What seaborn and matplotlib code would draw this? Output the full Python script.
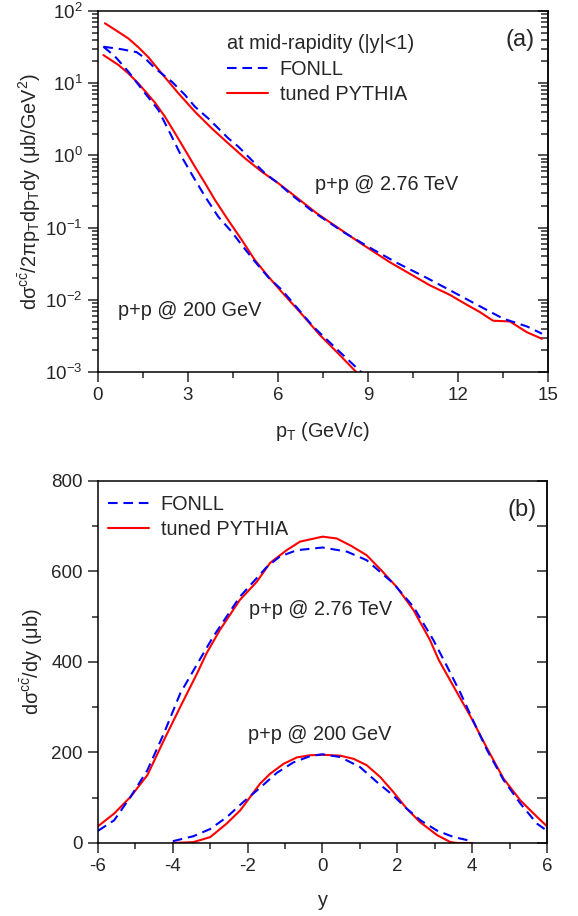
import numpy as np
import pandas as pd
import matplotlib
matplotlib.use("Agg")
import matplotlib.pyplot as plt
from matplotlib.ticker import MultipleLocator
import seaborn as sns

# ---- panel (a): pT spectra at mid-rapidity ----
pt_pythia_276 = [0.23, 0.68, 1.01, 1.34, 1.68, 2.12, 2.68, 3.23, 3.79, 4.34, 4.9, 5.46, 6.01,
                 6.46, 7.29, 8.73, 9.73, 11.07, 11.73, 12.3, 12.73, 13.17, 13.73, 14.3, 14.8]
pythia_276 = [67.6, 51.3, 41.7, 31.6, 22.9, 13.7, 7.24, 4.03, 2.37, 1.47, 0.912, 0.594, 0.411,
              0.295, 0.158, 0.0617, 0.0331, 0.0158, 0.0117, 0.00851, 0.00676, 0.00513,
              0.00501, 0.00355, 0.00288]

pt_fonll_276 = [0.18, 0.79, 1.29, 1.57, 1.9, 2.46, 2.9, 3.23, 3.68, 4.01, 4.34, 4.68, 5.12, 5.57,
                6.01, 6.46, 7.17, 8.17, 9.07, 9.97, 10.97, 11.83, 12.73, 13.5, 14.3, 14.8]
fonll_276 = [32.0, 29.5, 26.9, 22.1, 16.1, 10.5, 6.87, 4.73, 3.24, 2.37, 1.73, 1.32, 0.863, 0.562,
             0.411, 0.282, 0.166, 0.0871, 0.0525, 0.0324, 0.0200, 0.0129, 0.00813, 0.00550,
             0.00427, 0.00339]

pt_pythia_200 = [0.18, 0.68, 1.01, 1.34, 1.68, 1.9, 2.23, 2.57, 2.9, 3.23, 3.57, 3.9, 4.34, 4.79,
                 5.23, 5.68, 6.12, 6.73, 7.4, 8.0, 8.7]
pythia_200 = [24.5, 17.9, 13.7, 9.98, 6.87, 5.37, 3.44, 2.02, 1.19, 0.698, 0.411, 0.241, 0.127,
              0.0676, 0.0355, 0.0209, 0.0129, 0.00676, 0.00324, 0.00182, 0.000912]

pt_fonll_200 = [0.18, 0.57, 1.01, 1.57, 2.01, 2.46, 2.79, 3.18, 3.57, 4.01, 4.46, 4.79, 5.23,
                5.68, 6.12, 7.17, 8.0, 8.9]
fonll_200 = [32.0, 23.4, 14.5, 7.24, 4.27, 1.82, 0.955, 0.501, 0.269, 0.141, 0.0871, 0.0575,
             0.0339, 0.0204, 0.0138, 0.00427, 0.00200, 0.000891]

# ---- panel (b): rapidity distributions ----
y_pythia_276 = [-6, -5.57, -5.13, -4.68, -4.24, -3.80, -3.35, -3.10, -2.74, -2.21, -1.76, -1.40,
                -0.96, -0.60, 0.0, 0.38, 0.78, 1.18, 1.58, 1.98, 2.43, 2.87, 3.11, 3.51, 3.96,
                4.4, 4.84, 5.29, 5.73, 6]
dy_pythia_276 = [37, 65, 102, 150, 227, 301, 375, 419, 471, 537, 577, 619, 647, 666, 677, 673,
                 656, 636, 602, 566, 515, 449, 404, 345, 279, 209, 142, 94, 58, 37]

y_fonll_276 = [-6, -5.57, -5.13, -4.68, -4.24, -3.80, -3.31, -2.92, -2.21, -1.49, -1.14, -0.69,
               0.0, 0.65, 1.18, 1.89, 2.43, 2.96, 3.33, 3.69, 4.04, 4.4, 4.84, 5.29, 5.73, 6]
dy_fonll_276 = [27, 50, 102, 161, 242, 331, 401, 456, 544, 610, 633, 647, 653, 644, 625, 574,
                522, 449, 390, 331, 268, 205, 139, 87, 43, 27]

y_pythia_200 = [-4.0, -3.45, -3.0, -2.56, -2.2, -1.93, -1.67, -1.4, -1.04, -0.69, -0.33, 0.0,
                0.47, 0.83, 1.18, 1.54, 1.89, 2.25, 2.61, 3.07, 3.42, 3.6, 4.0]
dy_pythia_200 = [0, 2, 13, 43, 72, 102, 131, 153, 175, 189, 194, 195, 193, 186, 172, 146, 113,
                 76, 46, 17, 2, 0, 0]

y_fonll_200 = [-4.0, -3.45, -3.0, -2.56, -2.11, -1.67, -1.22, -0.78, -0.33, 0.0, 0.47, 1.0,
               1.45, 1.89, 2.25, 2.62, 3.07, 3.51, 4.0]
dy_fonll_200 = [4, 15, 31, 57, 91, 122, 155, 178, 192, 196, 190, 168, 135, 105, 76, 50, 27, 13, 4]

sns.set_style("ticks")
plt.rcParams["font.family"] = ["Liberation Sans", "DejaVu Sans"]
plt.rcParams["mathtext.fontset"] = "custom"
plt.rcParams["mathtext.rm"] = "Liberation Sans"
plt.rcParams["mathtext.it"] = "Liberation Sans:italic"
plt.rcParams["mathtext.default"] = "regular"
plt.rcParams["axes.unicode_minus"] = False
plt.rcParams["axes.linewidth"] = 1.1

FS_TICK = 13.5
FS = 14.3
RED = "#ff0000"
BLUE = "#0000ff"
dash = (0, (4.6, 2.8))

fig = plt.figure(figsize=(5.78, 9.16), dpi=100)
ax1 = fig.add_axes([0.16955, 0.5939, 0.7785, 0.3941])
ax2 = fig.add_axes([0.16955, 0.0797, 0.7768, 0.3952])


def style_axis(ax):
    ax.tick_params(which="both", direction="out", top=False, right=False,
                   labelsize=FS_TICK, width=1.1, pad=4)
    ax.tick_params(which="major", length=7)
    ax.tick_params(which="minor", length=4)
    for s in ax.spines.values():
        s.set_visible(True)
        s.set_color("black")
    sec = ax.secondary_yaxis("right")
    sec.tick_params(which="both", direction="in", labelright=False, width=1.1)
    sec.tick_params(which="major", length=7)
    sec.tick_params(which="minor", length=5)
    return sec


# panel (a)
sns.lineplot(x=pt_pythia_276, y=pythia_276, ax=ax1, color=RED, lw=1.5, errorbar=None)
sns.lineplot(x=pt_pythia_200, y=pythia_200, ax=ax1, color=RED, lw=1.5, errorbar=None)
sns.lineplot(x=pt_fonll_276, y=fonll_276, ax=ax1, color=BLUE, lw=1.5, linestyle=dash, errorbar=None)
sns.lineplot(x=pt_fonll_200, y=fonll_200, ax=ax1, color=BLUE, lw=1.5, linestyle=dash, errorbar=None)
ax1.set_yscale("log")
ax1.set_xlim(0, 15)
ax1.set_ylim(1e-3, 1e2)
ax1.xaxis.set_major_locator(MultipleLocator(3))
ax1.xaxis.set_minor_locator(MultipleLocator(1.5))
sec1 = style_axis(ax1)
ax1.set_xlabel("p$_T$ (GeV/c)", fontsize=FS, labelpad=11)
ax1.set_ylabel(r"d$\sigma^{c\bar{c}}$/2$\pi$p$_T$dp$_T$dy ($\mu$b/GeV$^2$)", fontsize=FS)
ax1.yaxis.set_label_coords(-0.122, 0.5)

h_f = plt.Line2D([], [], color=BLUE, lw=1.5, linestyle=dash)
h_p = plt.Line2D([], [], color=RED, lw=1.5)
ax1.legend([h_f, h_p], ["FONLL", "tuned PYTHIA"], title="at mid-rapidity (|y|<1)",
           loc="upper left", bbox_to_anchor=(0.287, 0.935), frameon=False,
           fontsize=FS, title_fontsize=FS, alignment="left", borderpad=0,
           borderaxespad=0, handlelength=2.05, handletextpad=0.6, labelspacing=0.32)
ax1.text(7.23, 0.39, "p+p @ 2.76 TeV", fontsize=FS, va="center", ha="left")
ax1.text(0.67, 0.0072, "p+p @ 200 GeV", fontsize=FS, va="center", ha="left")
ax1.text(14.57, 40, "(a)", fontsize=17, va="center", ha="right")

# panel (b)
sns.lineplot(x=y_pythia_276, y=dy_pythia_276, ax=ax2, color=RED, lw=1.5, errorbar=None)
sns.lineplot(x=y_pythia_200, y=dy_pythia_200, ax=ax2, color=RED, lw=1.5, errorbar=None)
sns.lineplot(x=y_fonll_276, y=dy_fonll_276, ax=ax2, color=BLUE, lw=1.5, linestyle=dash, errorbar=None)
sns.lineplot(x=y_fonll_200, y=dy_fonll_200, ax=ax2, color=BLUE, lw=1.5, linestyle=dash, errorbar=None)
ax2.set_xlim(-6, 6)
ax2.set_ylim(0, 800)
ax2.xaxis.set_major_locator(MultipleLocator(2))
ax2.xaxis.set_minor_locator(MultipleLocator(1))
ax2.yaxis.set_major_locator(MultipleLocator(200))
ax2.yaxis.set_minor_locator(MultipleLocator(100))
sec2 = style_axis(ax2)
sec2.yaxis.set_major_locator(MultipleLocator(200))
sec2.yaxis.set_minor_locator(MultipleLocator(100))
sec2.tick_params(which="minor", length=7)
ax2.set_xlabel("y", fontsize=FS, labelpad=11)
ax2.set_ylabel(r"d$\sigma^{c\bar{c}}$/dy ($\mu$b)", fontsize=FS)
ax2.yaxis.set_label_coords(-0.118, 0.5)
ax2.legend([h_f, h_p], ["FONLL", "tuned PYTHIA"], loc="upper left",
           bbox_to_anchor=(0.022, 0.962), frameon=False, fontsize=FS, borderpad=0,
           borderaxespad=0, handlelength=2.05, handletextpad=0.6, labelspacing=0.32)
ax2.text(-1.97, 515, "p+p @ 2.76 TeV", fontsize=FS, va="center", ha="left")
ax2.text(-2.0, 239, "p+p @ 200 GeV", fontsize=FS, va="center", ha="left")
ax2.text(5.72, 736, "(b)", fontsize=17, va="center", ha="right")

fig.savefig("out.png", dpi=100)
